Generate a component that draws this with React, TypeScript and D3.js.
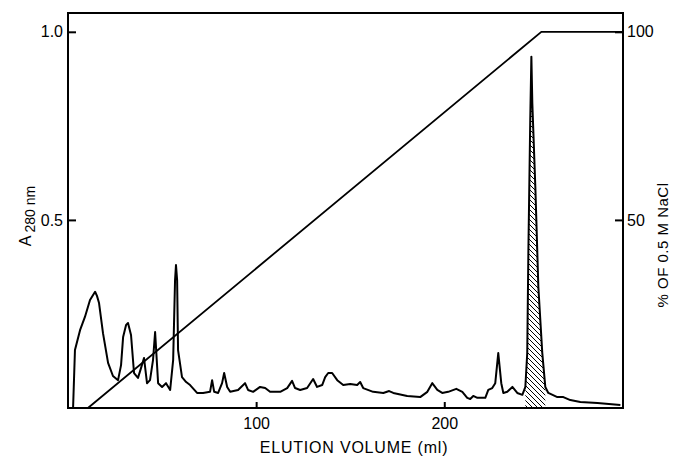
import React, { useRef, useEffect } from 'react';
import * as d3 from 'd3';

// elution profile (ml vs A280)
const elutionMl = [
	2.7, 3.7, 6.4, 9.0, 11.7, 14.4, 15.4, 16.5, 18.6, 21.3, 23.9, 26.6, 28.2, 29.3, 30.9, 31.9,
	33.5, 35.1, 37.2, 38.8, 40.4, 42.0, 43.6, 45.2, 46.3, 47.9, 50.0, 52.1, 54.3, 55.9, 56.9,
	57.4, 58.0, 58.5, 60.6, 62.8, 64.9, 68.6, 71.8, 75.5, 76.6, 77.7, 79.8, 81.9, 83.0, 84.6,
	86.2, 90.4, 94.1, 95.7, 98.4, 102.1, 104.8, 107.4, 112.8, 116.5, 119.1, 120.7, 123.4,
	127.1, 130.3, 132.4, 135.1, 136.7, 138.3, 140.4, 143.1, 146.3, 150.0, 153.7, 155.3, 156.9,
	162.2, 167.6, 170.7, 172.9, 180.3, 187.2, 191.0, 193.6, 196.3, 198.9, 202.1, 206.4, 209.6,
	212.2, 213.8, 215.4, 217.6, 219.1, 221.8, 223.4, 225.5, 227.1, 228.7, 230.3, 231.4, 233.5,
	236.2, 238.8, 241.5, 243.1, 244.1, 244.7, 245.7, 246.3, 246.8, 248.4, 250.0, 252.1, 253.7,
	255.3, 260.1, 263.3, 267.0, 272.3, 281.4, 293.6,
];
const absorbance = [
	0, 0.154, 0.207, 0.242, 0.287, 0.309, 0.298, 0.279, 0.199, 0.12, 0.085, 0.074, 0.114, 0.189,
	0.221, 0.226, 0.194, 0.093, 0.08, 0.106, 0.133, 0.066, 0.074, 0.128, 0.202, 0.066, 0.056,
	0.066, 0.048, 0.128, 0.34, 0.38, 0.34, 0.154, 0.082, 0.069, 0.061, 0.04, 0.04, 0.043, 0.074,
	0.043, 0.04, 0.066, 0.093, 0.056, 0.043, 0.048, 0.066, 0.048, 0.043, 0.056, 0.053, 0.043,
	0.043, 0.053, 0.072, 0.053, 0.048, 0.053, 0.077, 0.056, 0.061, 0.082, 0.093, 0.093, 0.074,
	0.061, 0.064, 0.061, 0.069, 0.053, 0.043, 0.04, 0.045, 0.04, 0.032, 0.029, 0.043, 0.066,
	0.048, 0.04, 0.043, 0.051, 0.043, 0.027, 0.024, 0.032, 0.027, 0.027, 0.027, 0.048, 0.053,
	0.066, 0.146, 0.066, 0.04, 0.043, 0.056, 0.04, 0.035, 0.056, 0.146, 0.412, 0.766, 0.934,
	0.811, 0.588, 0.322, 0.146, 0.056, 0.04, 0.029, 0.029, 0.021, 0.016, 0.013, 0.008,
];

// NaCl gradient
const gradientMl = [10.6, 251.6, 295];
const gradientPct = [0, 100, 100];

// hatched (pooled) fraction
const poolMl = [243.1, 253.7];

const xTicks = [100, 200];
const yTicks = [0.5, 1.0];
const pctTicks = [50, 100];

const W = 677;
const H = 459;

function ElutionChart() {
	const svgRef = useRef<SVGSVGElement>(null);

	useEffect(() => {
		const svg = d3.select(svgRef.current);
		svg.selectAll('*').remove();

		const x = d3.scaleLinear().domain([0, 295]).range([68, 623]);
		const y = d3.scaleLinear().domain([0, 1.05]).range([408, 13]);
		const yPct = d3.scaleLinear().domain([0, 105]).range([408, 13]);

		const trace = elutionMl.map((ml, i) => ({ ml, a: absorbance[i] }));
		const grad = gradientMl.map((ml, i) => ({ ml, p: gradientPct[i] }));

		// hatch pattern
		const defs = svg.append('defs');
		defs
			.append('pattern')
			.attr('id', 'hatch')
			.attr('patternUnits', 'userSpaceOnUse')
			.attr('width', 5)
			.attr('height', 5)
			.append('path')
			.attr('d', 'M-1,-1L6,6M-1,4L1,6M4,-1L6,1')
			.attr('stroke', 'black')
			.attr('stroke-width', 1);

		const pool = trace.filter((d) => d.ml >= poolMl[0] && d.ml <= poolMl[1]);
		const area = d3
			.area<{ ml: number; a: number }>()
			.x((d) => x(d.ml))
			.y0(y(0))
			.y1((d) => y(d.a));
		svg.append('path').datum(pool).attr('d', area).attr('fill', 'url(#hatch)');

		// frame
		svg
			.append('rect')
			.attr('x', x(0))
			.attr('y', y(1.05))
			.attr('width', x(295) - x(0))
			.attr('height', y(0) - y(1.05))
			.attr('fill', 'none')
			.attr('stroke', 'black')
			.attr('stroke-width', 2);

		const lineA = d3
			.line<{ ml: number; a: number }>()
			.x((d) => x(d.ml))
			.y((d) => y(d.a));
		svg
			.append('path')
			.datum(trace)
			.attr('d', lineA)
			.attr('fill', 'none')
			.attr('stroke', 'black')
			.attr('stroke-width', 2)
			.attr('stroke-linejoin', 'round');

		const lineG = d3
			.line<{ ml: number; p: number }>()
			.x((d) => x(d.ml))
			.y((d) => yPct(d.p));
		svg
			.append('path')
			.datum(grad)
			.attr('d', lineG)
			.attr('fill', 'none')
			.attr('stroke', 'black')
			.attr('stroke-width', 1.8);

		const font = '"Liberation Sans", Arial, sans-serif';

		const gx = svg
			.append('g')
			.attr('transform', `translate(0, ${y(0)})`)
			.call(d3.axisBottom(x).tickValues(xTicks).tickSize(-6).tickSizeOuter(0).tickPadding(10));
		const gy = svg
			.append('g')
			.attr('transform', `translate(${x(0)}, 0)`)
			.call(
				d3.axisLeft(y).tickValues(yTicks).tickFormat(d3.format('.1f')).tickSize(-8).tickSizeOuter(0).tickPadding(5)
			);
		const gr = svg
			.append('g')
			.attr('transform', `translate(${x(295)}, 0)`)
			.call(d3.axisRight(yPct).tickValues(pctTicks).tickSize(-8).tickSizeOuter(0).tickPadding(4));

		[gx, gy, gr].forEach((g) => {
			g.select('.domain').remove();
			g.selectAll('line').attr('stroke', 'black').attr('stroke-width', 2);
			g.selectAll('text').attr('font-family', font).attr('font-size', 16).attr('fill', 'black');
		});

		// axis titles
		const yl = svg
			.append('text')
			.attr('transform', 'translate(31, 216) rotate(-90)')
			.attr('text-anchor', 'middle')
			.attr('font-family', font)
			.attr('font-size', 16);
		yl.append('tspan').text('A');
		yl.append('tspan').attr('dx', 3).attr('dy', 4).attr('font-size', 14).text('280 nm');

		svg
			.append('text')
			.attr('transform', 'translate(668, 245) rotate(-90)')
			.attr('text-anchor', 'middle')
			.attr('font-family', font)
			.attr('font-size', 15)
			.attr('letter-spacing', 0.5)
			.text('% OF  0.5 M NaCl');

		svg
			.append('text')
			.attr('x', 354)
			.attr('y', 453)
			.attr('text-anchor', 'middle')
			.attr('font-family', font)
			.attr('font-size', 16)
			.attr('letter-spacing', 0.8)
			.text('ELUTION  VOLUME (ml)');
	}, []);

	return <svg ref={svgRef} width={W} height={H} style={{ display: 'block', background: 'white' }} />;
}

export default function App() {
	return (
		<div style={{ position: 'absolute', left: 0, top: 0 }}>
			<ElutionChart />
		</div>
	);
}
